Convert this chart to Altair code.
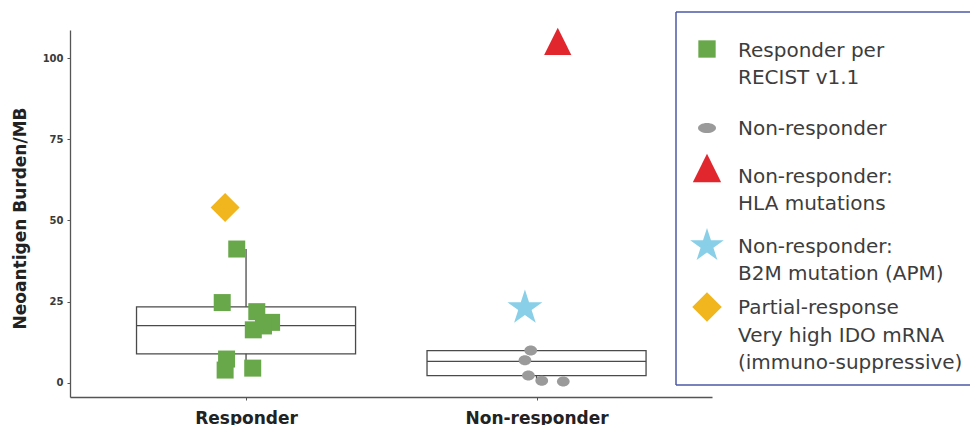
import math

import altair as alt
import pandas as pd

# ---- data -----------------------------------------------------------------
groups = ["Responder", "Non-responder"]

# Responders per RECIST v1.1 (green squares): value and horizontal jitter
responder_values = [41.2, 24.7, 21.9, 18.6, 17.5, 16.3, 7.3, 3.9, 4.5]
responder_jitter = [-0.032, -0.082, 0.037, 0.088, 0.060, 0.025, -0.067, -0.072, 0.023]

# Non-responders (grey dots)
nonresponder_values = [9.9, 6.9, 2.2, 0.6, 0.4]
nonresponder_jitter = [-0.020, -0.040, -0.028, 0.018, 0.092]

# Highlighted patients
hla_values, hla_jitter = [105.2], [0.073]      # Non-responder: HLA mutations
b2m_values, b2m_jitter = [23.6], [-0.040]      # Non-responder: B2M mutation
ido_values, ido_jitter = [54.0], [-0.072]      # Partial response, high IDO

# Box summaries per group: lower whisker, Q1, median, Q3, upper whisker
box_low = [3.9, 0.4]
box_q1 = [8.9, 2.2]
box_median = [17.6, 6.6]
box_q3 = [23.4, 9.9]
box_high = [41.2, 9.9]

y_ticks = [0, 25, 50, 75, 100]

legend_labels = [
    "Responder per\nRECIST v1.1",
    "Non-responder",
    "Non-responder:\nHLA mutations",
    "Non-responder:\nB2M mutation (APM)",
    "Partial-response\nVery high IDO mRNA\n(immuno-suppressive)",
]

# ---- styling ----------------------------------------------------------------
GREEN = "#68a84a"
GREY = "#9a9a9a"
RED = "#e2262d"
SKY = "#89cfe7"
GOLD = "#f1b51d"
INK = "#4a4a4a"
FRAME = "#4b58a6"
FONT = "DejaVu Sans"

def star_path():
    pts = []
    for k in range(10):
        ang = math.radians(-90 + 36 * k)
        r = 1.0 if k % 2 == 0 else 0.382
        pts.append((r * math.cos(ang), r * math.sin(ang) + 0.0955))
    return "M" + "L".join(f"{x:.4f},{y:.4f}" for x, y in pts) + "Z"

STAR = star_path()
TRIANGLE = "M0,-1L1,1L-1,1Z"
DOT = "M-1,0A1,0.79,0,1,0,1,0A1,0.79,0,1,0,-1,0Z"
LEGEND_DOT = "M-1,0A1,0.56,0,1,0,1,0A1,0.56,0,1,0,-1,0Z"

BOX_HALF = 0.377

x_scale = alt.Scale(domain=[0.394, 2.604], nice=False, zero=False)
y_scale = alt.Scale(domain=[-4.4, 108.7], nice=False, zero=False)

label_expr = "[" + ",".join(f"'{g}'" for g in groups) + "][datum.value - 1]"
x_axis = alt.Axis(
    values=[1, 2], labelExpr=label_expr, title=None, grid=False,
    tickSize=3, tickColor="#555", domainColor="#555", domainWidth=1.3,
    labelFont=FONT, labelFontSize=17, labelFontWeight="bold", labelColor="#222",
    labelPadding=10, labelFlush=False,
)
y_axis = alt.Axis(
    values=y_ticks, title="Neoantigen Burden/MB", grid=False,
    tickSize=3, tickColor="#555", domainColor="#555", domainWidth=1.3,
    labelFont=FONT, labelFontSize=10, labelFontWeight="bold", labelColor="#3a3a3a",
    labelPadding=4,
    titleFont=FONT, titleFontSize=17, titleFontWeight="bold", titleColor="#222",
    titleAngle=-90, titleX=-50, titleY=188, titleAlign="center", titleBaseline="middle",
)

# ---- boxes --------------------------------------------------------------------
boxes = pd.DataFrame({
    "pos": [1, 2], "low": box_low, "q1": box_q1, "median": box_median,
    "q3": box_q3, "high": box_high,
})
box_base = alt.Chart(boxes).transform_calculate(
    x0=f"datum.pos - {BOX_HALF}", x1=f"datum.pos + {BOX_HALF}"
)
whisk_hi = box_base.mark_rule(color=INK, strokeWidth=1.3).encode(
    x=alt.X("pos:Q", scale=x_scale, axis=x_axis),
    y=alt.Y("q3:Q", scale=y_scale, axis=y_axis), y2="high:Q")
whisk_lo = box_base.mark_rule(color=INK, strokeWidth=1.3).encode(
    x=alt.X("pos:Q", scale=x_scale, axis=x_axis),
    y=alt.Y("low:Q", scale=y_scale, axis=y_axis), y2="q1:Q")
box_rect = box_base.mark_rect(fill="white", stroke=INK, strokeWidth=1.3).encode(
    x=alt.X("x0:Q", scale=x_scale, axis=x_axis), x2="x1:Q",
    y=alt.Y("q1:Q", scale=y_scale, axis=y_axis), y2="q3:Q")
box_med = box_base.mark_rule(color=INK, strokeWidth=1.3).encode(
    x=alt.X("x0:Q", scale=x_scale, axis=x_axis), x2="x1:Q",
    y=alt.Y("median:Q", scale=y_scale, axis=y_axis))

# ---- points -------------------------------------------------------------------
def point_layer(pos, values, jitter, shape, color, size):
    df = pd.DataFrame({"x": [pos + j for j in jitter], "value": values})
    return alt.Chart(df).mark_point(
        shape=shape, filled=True, color=color, size=size, opacity=1, strokeWidth=0
    ).encode(
        x=alt.X("x:Q", scale=x_scale, axis=x_axis),
        y=alt.Y("value:Q", scale=y_scale, axis=y_axis),
    )

pts_resp = point_layer(1, responder_values, responder_jitter, "square", GREEN, 289)
pts_non = point_layer(2, nonresponder_values, nonresponder_jitter, DOT, GREY, 161)
pts_hla = point_layer(2, hla_values, hla_jitter, TRIANGLE, RED, 740)
pts_b2m = point_layer(2, b2m_values, b2m_jitter, STAR, SKY, 1354)
pts_ido = point_layer(1, ido_values, ido_jitter, "diamond", GOLD, 841)

# ---- legend panel (open on the right: it runs off the edge) ------------------
legend_symbols = [("square", GREEN, 300), (LEGEND_DOT, GREY, 324),
                  (TRIANGLE, RED, 800), (STAR, SKY, 1250), ("diamond", GOLD, 870)]
legend_symbol_y = [19, 98, 138, 214, 277]
legend_text_y = [26.7, 105, 152.7, 222.7, 284]
LEGEND_SYMBOL_X = 637
LEGEND_TEXT_X = 668
BOX_L, BOX_R, BOX_T, BOX_B = 606, 1000, -18, 355

one = pd.DataFrame({"a": [0]})
legend_fill = alt.Chart(one).mark_rect(fill="white", strokeWidth=0).encode(
    x=alt.value(BOX_L), x2=alt.value(BOX_R), y=alt.value(BOX_T), y2=alt.value(BOX_B))
frame_top = alt.Chart(one).mark_rule(color=FRAME, strokeWidth=1.5).encode(
    x=alt.value(BOX_L), x2=alt.value(BOX_R), y=alt.value(BOX_T))
frame_bottom = alt.Chart(one).mark_rule(color=FRAME, strokeWidth=1.5).encode(
    x=alt.value(BOX_L), x2=alt.value(BOX_R), y=alt.value(BOX_B))
frame_left = alt.Chart(one).mark_rule(color=FRAME, strokeWidth=1.5).encode(
    x=alt.value(BOX_L), y=alt.value(BOX_T), y2=alt.value(BOX_B))

legend_layers = [legend_fill, frame_top, frame_bottom, frame_left]
for (shape, color, size), sy, ty, label in zip(
        legend_symbols, legend_symbol_y, legend_text_y, legend_labels):
    legend_layers.append(
        alt.Chart(one).mark_point(
            shape=shape, filled=True, color=color, size=size, opacity=1, strokeWidth=0
        ).encode(x=alt.value(LEGEND_SYMBOL_X), y=alt.value(sy))
    )
    legend_layers.append(
        alt.Chart(pd.DataFrame({"t": [label]})).mark_text(
            align="left", baseline="alphabetic", font=FONT, fontSize=20,
            color="#3d3d3d", lineBreak="\n", lineHeight=27.5,
        ).encode(text="t:N", x=alt.value(LEGEND_TEXT_X), y=alt.value(ty))
    )

chart = alt.layer(
    box_rect, whisk_hi, whisk_lo, box_med,
    pts_resp, pts_non, pts_hla, pts_b2m, pts_ido,
    *legend_layers,
).properties(
    width=642, height=367,
    autosize=alt.AutoSizeParams(type="none"),
    padding={"left": 70, "top": 30, "right": 258, "bottom": 28},
    background="white",
).configure_view(stroke=None)

chart.save("out.html", embed_options={"renderer": "svg", "actions": False})
